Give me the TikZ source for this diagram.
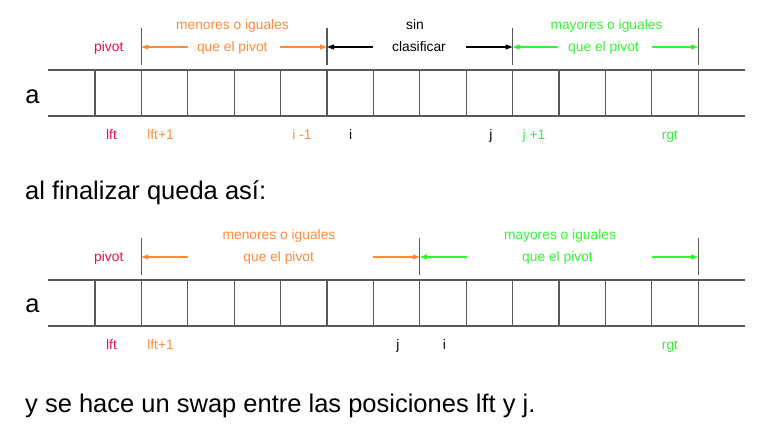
\documentclass[tikz,border=0pt]{standalone}
\usepackage{fontspec}
\setmainfont{Liberation Sans}
\usetikzlibrary{arrows.meta,positioning}
\definecolor{pivotred}{RGB}{232,16,72}
\definecolor{menorc}{RGB}{255,138,56}
\definecolor{mayorc}{RGB}{48,248,48}
\definecolor{gridc}{RGB}{88,88,88}

\begin{document}
\begin{tikzpicture}[
    x=1pt, y=-1pt,
    % --- STYLES ---
    lbl/.style={anchor=base, inner sep=0pt, font=\fontsize{13.8}{16}\selectfont},
    big/.style={anchor=base west, inner sep=0pt, font=\fontsize{25.5}{30}\selectfont},
    cell/.style={draw=gridc, line width=1.2pt},
    tick/.style={draw=gridc, line width=1.3pt},
    dim/.style={-{Triangle[length=7pt,width=5pt]}, line width=1.1pt}
]
\useasboundingbox (0,0) rectangle (772,427);

% ===== 1. COORDINATES =====
\def\cw{46.4}   % ancho de celda
\def\xz{95}     % primera linea vertical

% ===== 2. ARREGLO DE ARRIBA =====
\node[lbl, anchor=base, font=\fontsize{25.5}{30}\selectfont] (a1) at (32.5,104) {a};
\draw[cell] (48,70) -- (745,70);
\draw[cell] (48,116) -- (745,116);
\foreach \k in {0,...,13} \draw[cell] ({\xz+\cw*\k},70) -- ++(0,46);

% separadores
\coordinate (s1) at ({\xz+\cw*1},47);
\coordinate (s2) at ({\xz+\cw*5},47);
\coordinate (s3) at ({\xz+\cw*9},47);
\coordinate (s4) at ({\xz+\cw*13},47);
\draw[tick] ([yshift=19pt]s1) -- ([yshift=-18pt]s1);
\draw[tick] ([yshift=19pt]s2) -- ([yshift=-18pt]s2);
\draw[tick] ([yshift=19pt]s3) -- ([yshift=-18pt]s3);
\draw[tick] ([yshift=19pt]s4) -- ([yshift=-18pt]s4);

% textos de las zonas
\node[lbl, pivotred] (piv1) at (108.8,51.5) {pivot};
\node[lbl, menorc] (men1) at (232.5,29.5) {menores o iguales};
\node[lbl, menorc] (men1b) at (232.3,51.5) {que el pivot};
\node[lbl] (sin1) at (415,29.5) {sin};
\node[lbl] (sin1b) at (419,51.5) {clasificar};
\node[lbl, mayorc] (may1) at (606.5,29.5) {mayores o iguales};
\node[lbl, mayorc] (may1b) at (603.5,51.5) {que el pivot};

% flechas
\coordinate (m1l) at (188,47);
\coordinate (m1r) at (280,47);
\coordinate (c1l) at (373,47);
\coordinate (c1r) at (466,47);
\coordinate (g1l) at (558,47);
\coordinate (g1r) at (652,47);
\draw[dim, menorc] (m1l) -- (s1);
\draw[dim, menorc] (m1r) -- (s2);
\draw[dim, black] (c1l) -- (s2);
\draw[dim, black] (c1r) -- (s3);
\draw[dim, mayorc] (g1l) -- (s3);
\draw[dim, mayorc] (g1r) -- (s4);

% indices
\node[lbl, pivotred] (lft1) at (111.5,140) {lft};
\node[lbl, menorc] (lftp1) at (160.5,140) {lft+1};
\node[lbl, menorc] (im1) at (302,140) {i -1};
\node[lbl] (i1) at (350.7,140) {i};
\node[lbl] (j1) at (491,140) {j};
\node[lbl, mayorc] (jp1) at (534,140) {j +1};
\node[lbl, mayorc] (rgt1) at (670,140) {rgt};

% ===== 3. TEXTO INTERMEDIO =====
\node[big] (fin) at (25,199.3) {al finalizar queda así:};

% ===== 4. ARREGLO DE ABAJO =====
\node[lbl, anchor=base, font=\fontsize{25.5}{30}\selectfont] (a2) at (32.5,313) {a};
\draw[cell] (48,280) -- (745,280);
\draw[cell] (48,326) -- (745,326);
\foreach \k in {0,...,13} \draw[cell] ({\xz+\cw*\k},280) -- ++(0,46);

% separadores
\coordinate (t1) at ({\xz+\cw*1},257);
\coordinate (t2) at ({\xz+\cw*7},257);
\coordinate (t3) at ({\xz+\cw*13},257);
\draw[tick] ([yshift=19pt]t1) -- ([yshift=-18pt]t1);
\draw[tick] ([yshift=19pt]t2) -- ([yshift=-18pt]t2);
\draw[tick] ([yshift=19pt]t3) -- ([yshift=-18pt]t3);

% textos de las zonas
\node[lbl, pivotred] (piv2) at (108.8,261.5) {pivot};
\node[lbl, menorc] (men2) at (279,239.5) {menores o iguales};
\node[lbl, menorc] (men2b) at (278.7,261.5) {que el pivot};
\node[lbl, mayorc] (may2) at (560,239.5) {mayores o iguales};
\node[lbl, mayorc] (may2b) at (557.5,261.5) {que el pivot};

% flechas
\coordinate (m2l) at (188,257);
\coordinate (m2r) at (373,257);
\coordinate (g2l) at (467,257);
\coordinate (g2r) at (652,257);
\draw[dim, menorc] (m2l) -- (t1);
\draw[dim, menorc] (m2r) -- (t2);
\draw[dim, mayorc] (g2l) -- (t2);
\draw[dim, mayorc] (g2r) -- (t3);

% indices
\node[lbl, pivotred] (lft2) at (111.5,350) {lft};
\node[lbl, menorc] (lftp2) at (160.5,350) {lft+1};
\node[lbl] (j2) at (398,350) {j};
\node[lbl] (i2) at (444.3,350) {i};
\node[lbl, mayorc] (rgt2) at (670,350) {rgt};

% ===== 5. TEXTO FINAL =====
\node[big] (swap) at (25,412.3) {y se hace un swap entre las posiciones lft y j.};

\end{tikzpicture}
\end{document}
